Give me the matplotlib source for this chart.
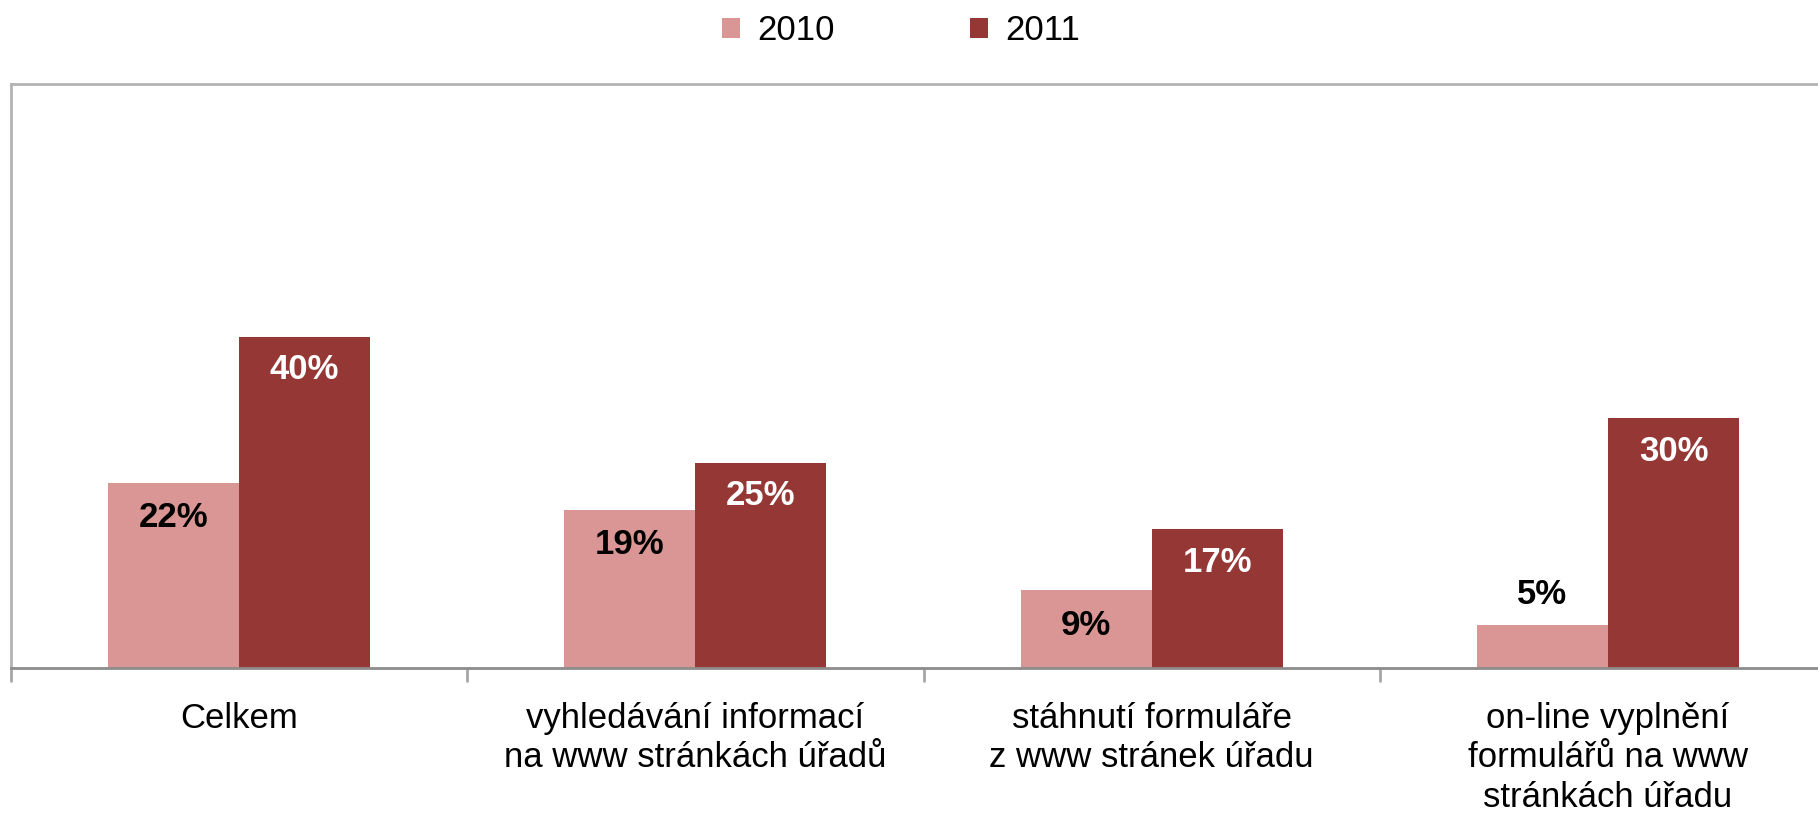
import numpy as np
import matplotlib
matplotlib.use("Agg")
import matplotlib.pyplot as plt
from matplotlib.ticker import FixedLocator

plt.rcParams['font.family'] = ['Liberation Sans', 'DejaVu Sans']

categories = ["Celkem",
              "vyhledávání informací\nna www stránkách úřadů",
              "stáhnutí formuláře\nz www stránek úřadu",
              "on-line vyplnění\nformulářů na www\nstránkách úřadu"]
# bar heights (labels are rounded)
values_2010 = [22.4, 19.1, 9.4, 5.2]
values_2011 = [40.0, 24.8, 16.8, 30.2]
series_names = ["2010", "2011"]

color_2010 = "#DA9694"
color_2011 = "#953735"

fig = plt.figure(figsize=(18.18, 8.13), dpi=100)
ax = fig.add_axes([0.006, 0.178, 1.004, 0.719])

x = np.arange(len(categories))
width = 0.287
bars_a = ax.bar(x - width / 2, values_2010, width, color=color_2010, label=series_names[0])
bars_b = ax.bar(x + width / 2, values_2011, width, color=color_2011, label=series_names[1])

ax.set_xlim(-0.5, 3.5)
ax.set_ylim(0, 70.5)

# value labels: inside near the top, above the bar when it is too short
for rect, v in zip(bars_a, values_2010):
    cx = rect.get_x() + rect.get_width() / 2
    dy = -25 if v >= 8 else 22
    ax.annotate("{:.0f}%".format(v), (cx, v), xytext=(0, dy), textcoords="offset points",
                ha="center", va="center", fontsize=25, fontweight="bold", color="black")
for rect, v in zip(bars_b, values_2011):
    cx = rect.get_x() + rect.get_width() / 2
    ax.annotate("{:.0f}%".format(v), (cx, v), xytext=(0, -24), textcoords="offset points",
                ha="center", va="center", fontsize=25, fontweight="bold", color="white")

ax.set_xticks(x)
ax.set_xticklabels(categories, fontsize=25, linespacing=1.26, va="top")
ax.tick_params(axis="x", which="major", length=0, pad=24)
ax.xaxis.set_minor_locator(FixedLocator([-0.5, 0.5, 1.5, 2.5, 3.5]))
ax.tick_params(axis="x", which="minor", length=10, width=2, color="#a6a6a6")
ax.set_yticks([])

for side in ["left", "top"]:
    ax.spines[side].set_color("#b3b3b3")
    ax.spines[side].set_linewidth(2)
ax.spines["bottom"].set_color("#8c8c8c")
ax.spines["bottom"].set_linewidth(2)
ax.spines["right"].set_visible(False)

fig.legend(handles=[bars_a, bars_b], labels=series_names, loc="center",
           bbox_to_anchor=(0.4956, 0.962), ncol=2, frameon=False, fontsize=25,
           handlelength=0.52, handleheight=0.52, handletextpad=0.5, columnspacing=3.9)

fig.savefig("out.png", dpi=100)
